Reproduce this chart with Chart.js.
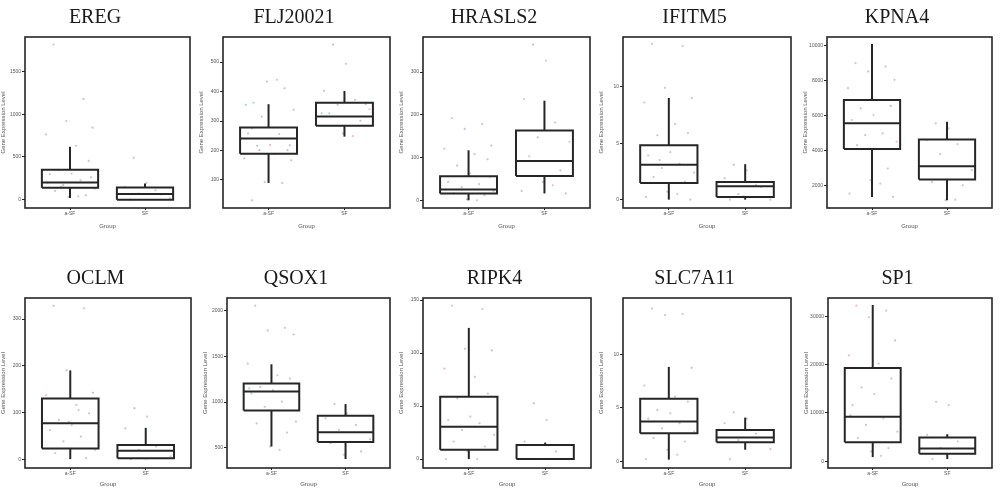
<!DOCTYPE html>
<html>
<head>
<meta charset="utf-8">
<script src="https://cdn.jsdelivr.net/npm/chart.js@4.4.1/dist/chart.umd.min.js"></script>
<style>
  html, body { margin: 0; background: #fff; width: 1000px; height: 488px; overflow: hidden; }
  .panel { position: absolute; }
</style>
</head>
<body>
<script>
/* ─── data ─── */
const GENES = ['EREG', 'FLJ20021', 'HRASLS2', 'IFITM5', 'KPNA4', 'OCLM', 'QSOX1', 'RIPK4', 'SLC7A11', 'SP1'];
const GROUPS = ['a-SF', 'SF'];

const Y_RANGE = [
  [-98, 1905], [5, 585], [-18, 382], [-0.74, 14.4], [721, 10477],
  [-19, 345], [279, 2138], [-8.4, 152], [-0.62, 15.3], [-1370, 33770],
];
const Y_TICKS = [
  [0, 500, 1000, 1500], [100, 200, 300, 400, 500], [0, 100, 200, 300], [0, 5, 10],
  [2000, 4000, 6000, 8000, 10000], [0, 100, 200, 300], [500, 1000, 1500, 2000],
  [0, 50, 100, 150], [0, 5, 10], [0, 10000, 20000, 30000],
];

// box stats: [lower whisker, q1, median, q3, upper whisker]
const BOX_A = [
  [20, 140, 200, 350, 620], [90, 189, 241, 278, 357], [0, 16, 25, 56, 117], [0, 1.48, 3.1, 4.82, 9.0],
  [1351, 4081, 5551, 6888, 10076], [0, 23, 77, 130, 190], [514, 909, 1116, 1203, 1413],
  [0, 8.75, 30.6, 58.8, 123.8], [0.16, 2.64, 3.73, 5.87, 8.85], [890, 3973, 9247, 19315, 32329],
];
const BOX_B = [
  [0, 0, 65, 142, 190], [247, 284, 315, 362, 402], [16, 57, 92, 163, 233], [0, 0.24, 1.18, 1.57, 3.14],
  [1160, 2344, 3107, 4635, 5647], [0, 2, 18, 30, 67], [377, 562, 670, 851, 978],
  [0, 0, 0, 13.4, 15.6], [1.09, 1.8, 2.24, 2.95, 4.1], [479, 1575, 2671, 4932, 5616],
];

// individual samples
const PTS_A = [
  [1815, 1180, 921, 843, 764, 631, 455, 345, 306, 298, 227, 169, 129, 102, 51, 31, 39, 200, 260, 150],
  [31, 90, 93, 167, 173, 188, 201, 216, 219, 258, 256, 315, 338, 362, 411, 434, 440, 355, 218, 201, 275],
  [192, 178, 167, 128, 121, 108, 96, 81, 63, 43, 38, 31, 22, 16, 12, 2, 0, 25, 55],
  [13.8, 13.6, 9.9, 9.0, 8.6, 6.7, 5.9, 5.7, 4.2, 3.9, 3.2, 2.8, 2.4, 2.0, 1.6, 0.7, 0.5, 0.24, 0, 3.5],
  [8988, 8797, 8511, 8034, 7556, 6888, 6544, 6410, 6028, 5742, 4978, 4883, 4501, 4310, 2974, 2305, 2115, 1542, 1351],
  [328, 323, 190, 142, 137, 116, 98, 84, 73, 62, 48, 38, 20, 13, 2, 80, 105],
  [2054, 1812, 1783, 1739, 1420, 1293, 1257, 1167, 1130, 1094, 1004, 949, 786, 768, 667, 514, 478, 1150],
  [144.7, 141.6, 104, 102.5, 85.3, 77.5, 61.9, 57.2, 40, 36.9, 33.8, 27.5, 22.8, 16.6, 11.9, 7.2, 0, 0],
  [14.3, 13.8, 13.7, 8.76, 7.1, 6.06, 5.6, 4.8, 4.5, 4.0, 3.57, 3.1, 2.8, 2.2, 1.86, 1.09, 0.62, 0.22],
  [32191, 31164, 29795, 25000, 21918, 20205, 17123, 15274, 13904, 11644, 8904, 7534, 6164, 4795, 2740, 2055, 1164, 9500],
];
const PTS_B = [
  [490, 196, 149, 110, 71, 16, 0, 60],
  [559, 494, 402, 372, 355, 340, 326, 301, 258, 249, 326, 357],
  [364, 327, 237, 182, 147, 137, 103, 70, 43, 35, 22, 16],
  [3.1, 2.6, 1.9, 1.3, 0.5, 0, 0, 1.1, 0.3],
  [5551, 5265, 4597, 4368, 3795, 2878, 2210, 2019, 1160, 1198],
  [109, 91, 66, 27, 20, 6, 0],
  [978, 877, 822, 750, 696, 594, 551, 460, 424],
  [52.5, 36.9, 16.6, 7.2, 0, 0],
  [4.6, 4.0, 3.57, 2.6, 2.0, 1.15, 0.22],
  [12329, 11644, 5479, 4110, 2740, 1575, 479],
];

// fixed horizontal jitter offsets for the dots (group units)
const JITTER = [-0.22, 0.18, -0.05, 0.3, -0.32, 0.08, 0.25, -0.15, 0.02, -0.27,
  0.14, -0.09, 0.33, -0.2, 0.21, -0.02, 0.11, -0.3, 0.28, -0.12];

/* ─── layout ─── */
const FRAME_L = [25, 223, 423, 623, 827, 25, 227, 423, 623, 828];
const FRAME_R = [190, 390, 590, 791, 992, 191, 390, 591, 791, 992];
const ROW_TOP = [0, 261];
const ROW_H = [230, 227];
const ROW_XAXIS = [22, 20];
const BOX_W = 0.375;
const INK = '#262626';
const DOT_COLORS = ['rgba(214,120,150,0.5)', 'rgba(110,170,130,0.5)', 'rgba(130,140,200,0.5)', 'rgba(150,150,150,0.55)'];

const framePlugin = {
  id: 'frame',
  afterDatasetsDraw(chart) {
    const a = chart.chartArea;
    const c = chart.ctx;
    c.save();
    c.strokeStyle = INK;
    c.lineWidth = 1.6;
    c.strokeRect(a.left, a.top, a.right - a.left, a.bottom - a.top);
    c.restore();
  },
};

function seg(points) {
  return {
    type: 'line',
    data: points,
    borderColor: INK,
    borderWidth: 2,
    pointRadius: 0,
    fill: false,
    tension: 0,
    order: 0,
  };
}

function boxDatasets(g, s) {
  const [lo, q1, med, q3, hi] = s;
  return [
    seg([{ x: g - BOX_W, y: q1 }, { x: g + BOX_W, y: q1 }, { x: g + BOX_W, y: q3 }, { x: g - BOX_W, y: q3 }, { x: g - BOX_W, y: q1 }]),
    seg([{ x: g - BOX_W, y: med }, { x: g + BOX_W, y: med }]),
    seg([{ x: g, y: q3 }, { x: g, y: hi }]),
    seg([{ x: g, y: lo }, { x: g, y: q1 }]),
  ];
}

function dots(g, vals, shift) {
  return {
    type: 'scatter',
    data: vals.map((v, j) => ({ x: g + JITTER[(j + shift) % JITTER.length], y: v })),
    pointRadius: 1.1,
    pointBorderWidth: 0,
    backgroundColor: vals.map((v, j) => DOT_COLORS[(j + shift) % DOT_COLORS.length]),
    order: 1,
  };
}

GENES.forEach((gene, i) => {
  const row = i < 5 ? 0 : 1;
  const left = FRAME_L[i] - 25;
  const width = FRAME_R[i] + 4 - left;

  const div = document.createElement('div');
  div.className = 'panel';
  div.style.left = left + 'px';
  div.style.top = ROW_TOP[row] + 'px';
  div.style.width = width + 'px';
  div.style.height = ROW_H[row] + 'px';
  const canvas = document.createElement('canvas');
  div.appendChild(canvas);
  document.body.appendChild(div);

  new Chart(canvas, {
    type: 'scatter',
    data: {
      datasets: [
        dots(1, PTS_A[i], 0),
        dots(2, PTS_B[i], 7),
        ...boxDatasets(1, BOX_A[i]),
        ...boxDatasets(2, BOX_B[i]),
      ],
    },
    options: {
      responsive: true,
      maintainAspectRatio: false,
      animation: false,
      layout: { padding: { top: 0, right: 4, bottom: 0, left: 0 } },
      plugins: {
        legend: { display: false },
        tooltip: { enabled: false },
        title: {
          display: true,
          text: gene,
          color: '#1a1a1a',
          font: { family: "'Liberation Serif', 'Times New Roman', serif", size: 20, weight: 'normal' },
          padding: { top: 6, bottom: 7 },
        },
      },
      scales: {
        x: {
          type: 'linear',
          min: 0.4,
          max: 2.6,
          afterBuildTicks: (s) => { s.ticks = [{ value: 1 }, { value: 2 }]; },
          afterFit: (s) => { s.height = ROW_XAXIS[row]; },
          grid: { drawOnChartArea: false, drawTicks: true, tickLength: 2, color: INK },
          border: { display: false },
          ticks: {
            color: '#555',
            font: { family: 'Arial, sans-serif', size: 5 },
            padding: 1,
            maxRotation: 0,
            callback: (v) => GROUPS[v - 1],
          },
          title: {
            display: true,
            text: 'Group',
            color: '#555',
            font: { family: 'Arial, sans-serif', size: 6 },
            padding: { top: 0, bottom: 0 },
          },
        },
        y: {
          min: Y_RANGE[i][0],
          max: Y_RANGE[i][1],
          afterBuildTicks: (s) => { s.ticks = Y_TICKS[i].map((v) => ({ value: v })); },
          afterFit: (s) => { s.width = 25; },
          grid: { drawOnChartArea: false, drawTicks: true, tickLength: 3, color: INK },
          border: { display: false },
          ticks: {
            color: '#555',
            font: { family: 'Arial, sans-serif', size: 5 },
            padding: 1,
            callback: (v) => String(v),
          },
          title: {
            display: true,
            text: 'Gene Expression Level',
            color: '#555',
            font: { family: 'Arial, sans-serif', size: 6 },
            padding: { top: 0, bottom: 1 },
          },
        },
      },
    },
    plugins: [framePlugin],
  });
});
</script>
</body>
</html>
